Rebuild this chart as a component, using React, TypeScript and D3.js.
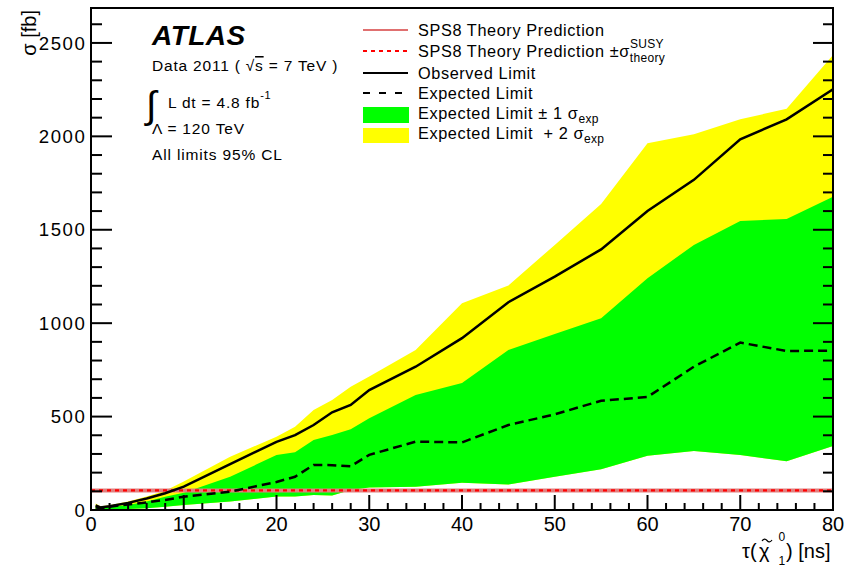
import React from "react";
import * as d3 from "d3";

const tau = [0.5, 1, 2, 4, 6, 8, 10, 15, 20, 22, 24, 26, 28, 30, 35, 40, 45, 50, 55, 60, 65, 70, 75, 80];
const observed = [25, 14, 20, 38, 62, 90, 125, 245, 365, 401, 455, 523, 562, 642, 767, 920, 1112, 1249, 1395, 1600, 1767, 1984, 2091, 2252];
const expected = [15, 10, 18, 30, 41, 54, 71, 98, 150, 178, 241, 240, 234, 295, 366, 362, 455, 512, 585, 605, 767, 896, 851, 853];
const plus1 = [17, 15, 18, 27, 45, 71, 93, 178, 294, 309, 375, 401, 432, 491, 616, 680, 857, 942, 1026, 1240, 1419, 1547, 1558, 1677];
const minus1 = [5, 4, 4, 5, 9, 18, 27, 45, 72, 72, 80, 77, 107, 121, 125, 146, 137, 178, 218, 291, 316, 294, 261, 343];
const plus2 = [35, 20, 25, 45, 72, 103, 152, 285, 392, 446, 535, 589, 660, 714, 857, 1107, 1201, 1419, 1638, 1963, 2011, 2091, 2148, 2436];

const theoryX = [0, 80];
const theory = [105, 105];
const theoryUp = [107, 107];
const theoryDown = [103, 103];

const xMajor = [0, 10, 20, 30, 40, 50, 60, 70, 80];
const yMajor = [0, 500, 1000, 1500, 2000, 2500];

const FONT = "'Liberation Sans', Arial, Helvetica, sans-serif";

export default function App() {
  const W = 848, H = 568;
  const L = 91, R = 833, T = 8, B = 510;
  const x = d3.scaleLinear().domain([0, 80]).range([L, R]);
  const y = d3.scaleLinear().domain([0, 2687]).range([B, T]);

  const idx = tau.map((_, i) => i);
  const yellowArea = d3.area<number>().x(i => x(tau[i])).y0(i => y(minus1[i])).y1(i => y(plus2[i]))(idx) || "";
  const greenArea = d3.area<number>().x(i => x(tau[i])).y0(i => y(minus1[i])).y1(i => y(plus1[i]))(idx) || "";
  const obsLine = d3.line<number>().x(i => x(tau[i])).y(i => y(observed[i]))(idx) || "";
  const expLine = d3.line<number>().x(i => x(tau[i])).y(i => y(expected[i]))(idx) || "";
  const tIdx = theoryX.map((_, i) => i);
  const thLine = (arr: number[]) => d3.line<number>().x(i => x(theoryX[i])).y(i => y(arr[i]))(tIdx) || "";

  const xMinor = d3.range(0, 81, 2).filter(v => v % 10 !== 0);
  const yMinor = d3.range(0, 2687, 100).filter(v => v % 500 !== 0);

  const legX1 = 363, legX2 = 408, legT = 418;
  const legFont = { fontFamily: FONT, fontSize: 16.3, letterSpacing: 0.6 } as React.CSSProperties;

  return (
    <svg width={W} height={H} style={{ position: "absolute", left: 0, top: 0, background: "#fff" }}>
      <rect x={0} y={0} width={W} height={H} fill="#fff" />
      <defs>
        <clipPath id="plotclip"><rect x={L} y={T} width={R - L} height={B - T} /></clipPath>
      </defs>
      <g clipPath="url(#plotclip)">
        <path d={yellowArea} fill="#ffff00" />
        <path d={greenArea} fill="#00ff00" />
        <path d={thLine(theory)} stroke="#e08080" strokeWidth={4} fill="none" />
        <path d={thLine(theoryUp)} stroke="#ff0000" strokeWidth={1.6} strokeDasharray="4,4" fill="none" />
        <path d={thLine(theoryDown)} stroke="#ff0000" strokeWidth={1.6} strokeDasharray="4,4" fill="none" />
        <path d={expLine} stroke="#000" strokeWidth={2.5} strokeDasharray="9,5" fill="none" />
        <path d={obsLine} stroke="#000" strokeWidth={2.5} fill="none" />
      </g>

      {/* frame */}
      <rect x={L} y={T} width={R - L} height={B - T} fill="none" stroke="#000" strokeWidth={2} />

      {/* x ticks */}
      {xMajor.map(v => (
        <g key={"xm" + v}>
          <line x1={x(v)} x2={x(v)} y1={B} y2={B - 15} stroke="#000" strokeWidth={2} />
          <text x={x(v)} y={531} textAnchor="middle" fontFamily={FONT} fontSize={20}>{v}</text>
        </g>
      ))}
      {xMinor.map(v => (
        <line key={"xn" + v} x1={x(v)} x2={x(v)} y1={B} y2={B - 7} stroke="#000" strokeWidth={2} />
      ))}

      {/* y ticks */}
      {yMajor.map(v => (
        <g key={"ym" + v}>
          <line x1={L} x2={L + 21} y1={y(v)} y2={y(v)} stroke="#000" strokeWidth={2} />
          <line x1={R} x2={R - 20} y1={y(v)} y2={y(v)} stroke="#000" strokeWidth={2} />
          <text x={86.5} y={y(v) + 6.7} textAnchor="end" fontFamily={FONT} fontSize={18.6} letterSpacing={1.6}>{v}</text>
        </g>
      ))}
      {yMinor.map(v => (
        <g key={"yn" + v}>
          <line x1={L} x2={L + 11} y1={y(v)} y2={y(v)} stroke="#000" strokeWidth={2} />
          <line x1={R} x2={R - 10} y1={y(v)} y2={y(v)} stroke="#000" strokeWidth={2} />
        </g>
      ))}

      {/* axis titles */}
      <text transform="translate(36,10) rotate(-90)" textAnchor="end" fontFamily={FONT} fontSize={20}>σ [fb]</text>
      <g fontFamily={FONT}>
        <text x={742} y={558} fontSize={20}>τ(</text>
        <text x={759} y={558} fontSize={20}>χ</text>
        <path d="M762,541 q2.5,-3.5 5,-0.5 t5,-0.5" fill="none" stroke="#000" strokeWidth={1.2} />
        <text x={778.5} y={541} fontSize={12}>0</text>
        <text x={778.5} y={565} fontSize={12}>1</text>
        <text x={786} y={558} fontSize={20}>) [ns]</text>
      </g>

      {/* ATLAS label block */}
      <text x={152} y={45} fontFamily={FONT} fontSize={28} fontWeight="bold" fontStyle="italic" letterSpacing={0.5}>ATLAS</text>
      <text x={152} y={71} fontFamily={FONT} fontSize={15.5} letterSpacing={0.8}>
        Data 2011 ( √<tspan style={{ textDecoration: "overline" }}>s</tspan> = 7 TeV )
      </text>
      <text x={146} y={118} fontFamily={FONT} fontSize={38}>∫</text>
      <text x={168} y={108} fontFamily={FONT} fontSize={15.5} letterSpacing={0.8}>
        L dt = 4.8 fb<tspan dy={-9} fontSize={11}>-1</tspan>
      </text>
      <text x={152} y={134} fontFamily={FONT} fontSize={15.5} letterSpacing={0.8}>Λ = 120 TeV</text>
      <text x={152} y={159.5} fontFamily={FONT} fontSize={15.5} letterSpacing={0.85}>All limits 95% CL</text>

      {/* legend */}
      <line x1={legX1} x2={legX2} y1={30} y2={30} stroke="#e07070" strokeWidth={2} />
      <text x={legT} y={36} style={legFont}>SPS8 Theory Prediction</text>

      <line x1={legX1} x2={legX2} y1={51} y2={51} stroke="#ff0000" strokeWidth={2} strokeDasharray="4,4" />
      <text x={legT} y={56.5} style={legFont}>
        SPS8 Theory Prediction ±σ
        <tspan dy={-8.5} fontSize={12} letterSpacing={0.3}>SUSY</tspan>
        <tspan dx={-34} dy={14} fontSize={12} letterSpacing={0.3}>theory</tspan>
      </text>

      <line x1={legX1} x2={legX2} y1={73} y2={73} stroke="#000" strokeWidth={2} />
      <text x={legT} y={78.5} style={legFont}>Observed Limit</text>

      <line x1={legX1} x2={legX2} y1={93} y2={93} stroke="#000" strokeWidth={2} strokeDasharray="7,9" />
      <text x={legT} y={99} style={legFont}>Expected Limit</text>

      <rect x={legX1} y={107} width={46} height={16} fill="#00ff00" />
      <text x={legT} y={118.5} style={legFont}>
        Expected Limit ± 1 σ<tspan dy={4} fontSize={12} letterSpacing={0.3}>exp</tspan>
      </text>

      <rect x={legX1} y={128} width={46} height={15} fill="#ffff00" />
      <text x={legT} y={139} style={legFont}>
        {"Expected Limit\u00a0 + 2 σ"}<tspan dy={4} fontSize={12} letterSpacing={0.3}>exp</tspan>
      </text>
    </svg>
  );
}
